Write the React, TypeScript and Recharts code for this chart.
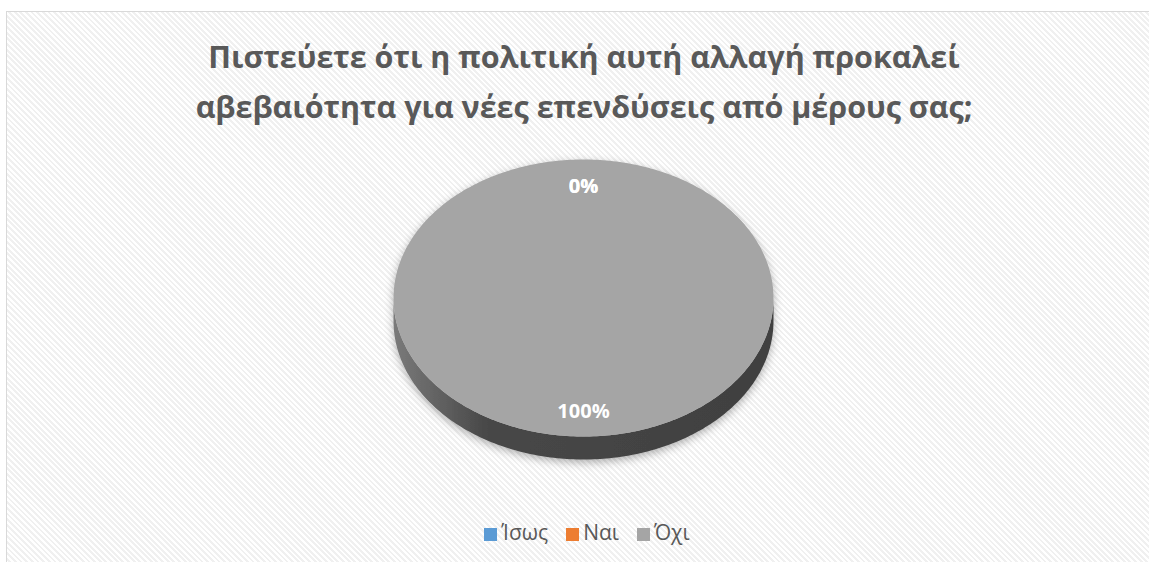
import { PieChart, Pie, Cell, Legend } from 'recharts';

const categories = ['Ίσως', 'Ναι', 'Όχι'];
const shares = [0, 0, 100];
const sliceColors = ['#5B9BD5', '#ED7D31', '#A5A5A5'];
const titleLines = [
  'Πιστεύετε ότι η πολιτική αυτή αλλαγή προκαλεί',
  'αβεβαιότητα για νέες επενδύσεις από μέρους σας;',
];

const data = categories.map((name, i) => ({ name, value: shares[i] }));

const W = 1156;
const H = 560;
const TILT = 0.729; // vertical squash of the disc
const DEPTH = 23; // thickness of the disc edge
const RAD = Math.PI / 180;

// 3D-looking slice: squashed top face plus the visible front edge
const Slice3D = (props: any) => {
  const { cx, cy, outerRadius, startAngle, endAngle, fill, index } = props;
  const span = endAngle - startAngle;
  if (Math.abs(span) < 0.01) return <g />;
  const ry = outerRadius * TILT;
  const n = Math.max(2, Math.ceil(Math.abs(span)));
  const angles = Array.from({ length: n + 1 }, (_, i) => startAngle + (span * i) / n);
  const pt = (a: number, dy = 0) =>
    `${cx + outerRadius * Math.cos(a * RAD)},${cy - ry * Math.sin(a * RAD) + dy}`;

  const full = Math.abs(span) >= 359.99;
  const top = full
    ? `M${angles.map((a) => pt(a)).join('L')}Z`
    : `M${cx},${cy}L${angles.map((a) => pt(a)).join('L')}Z`;

  // runs of the arc lying on the front (lower) half
  const runs: number[][] = [];
  let cur: number[] = [];
  angles.forEach((a) => {
    if (Math.sin(a * RAD) <= 1e-9) cur.push(a);
    else if (cur.length) {
      runs.push(cur);
      cur = [];
    }
  });
  if (cur.length) runs.push(cur);
  const sides = runs
    .filter((r) => r.length > 1)
    .map((r) => `M${r.map((a) => pt(a)).join('L')}L${[...r].reverse().map((a) => pt(a, DEPTH)).join('L')}Z`);

  const gid = `edge-${index}`;
  return (
    <g>
      <defs>
        <linearGradient id={gid} x1={cx - outerRadius} x2={cx + outerRadius} y1={0} y2={0} gradientUnits="userSpaceOnUse">
          <stop offset="0%" stopColor="#7a7a7a" />
          <stop offset="25%" stopColor="#474747" />
          <stop offset="100%" stopColor="#404040" />
        </linearGradient>
        <filter id={`shadow-${index}`} x="-20%" y="-20%" width="140%" height="150%">
          <feDropShadow dx="0" dy="3" stdDeviation="4" floodColor="#000" floodOpacity="0.3" />
        </filter>
      </defs>
      <g filter={`url(#shadow-${index})`}>
        {sides.map((d, i) => (
          <path key={i} d={d} fill={`url(#${gid})`} stroke="none" />
        ))}
        <path d={top} fill={fill} stroke="none" />
      </g>
    </g>
  );
};

const renderLabel = (p: any) => {
  const { cx, cy, midAngle, outerRadius, percent } = p;
  const x = cx + outerRadius * 0.81 * Math.cos(midAngle * RAD);
  const y = cy - outerRadius * TILT * 0.81 * Math.sin(midAngle * RAD);
  return (
    <text
      x={x}
      y={y}
      fill="#ffffff"
      textAnchor="middle"
      dominantBaseline="central"
      fontSize={20}
      fontWeight={700}
      fontFamily="Open Sans"
    >
      {`${Math.round(percent * 100)}%`}
    </text>
  );
};

export default function App() {
  return (
    <div
      style={{
        position: 'absolute',
        left: 6,
        top: 11,
        width: 1143,
        height: 551,
        overflow: 'hidden',
        borderTop: '1px solid #d9d9d9',
        borderLeft: '1px solid #d9d9d9',
        background: 'repeating-linear-gradient(45deg, #ffffff 0px, #ffffff 2px, #f0f0f0 2px, #f0f0f0 4px)',
      }}
    >
      <PieChart width={W} height={H} margin={{ top: 0, right: 0, bottom: 0, left: 0 }}>
        <Pie
          data={data}
          dataKey="value"
          nameKey="name"
          cx={576.5}
          cy={286}
          outerRadius={190}
          startAngle={90}
          endAngle={-270}
          stroke="none"
          label={renderLabel}
          labelLine={false}
          shape={Slice3D}
          isAnimationActive={false}
        >
          {data.map((d, i) => (
            <Cell key={d.name} fill={sliceColors[i]} />
          ))}
        </Pie>
        <Legend
          verticalAlign="bottom"
          iconType="square"
          iconSize={13}
          itemSorter={null}
          wrapperStyle={{ bottom: 26, left: 11, fontFamily: 'Open Sans', fontSize: 21 }}
          formatter={(v: string) => <span style={{ color: '#595959', paddingRight: 8 }}>{v}</span>}
        />
      </PieChart>
      <svg width={W} height={130} style={{ position: 'absolute', left: 0, top: 0 }}>
        {titleLines.map((t, i) => (
          <text
            key={i}
            x={577}
            y={56 + i * 50}
            textAnchor="middle"
            fill="#595959"
            fontSize={30.5}
            fontWeight={700}
            fontFamily="Open Sans"
          >
            {t}
          </text>
        ))}
      </svg>
    </div>
  );
}
